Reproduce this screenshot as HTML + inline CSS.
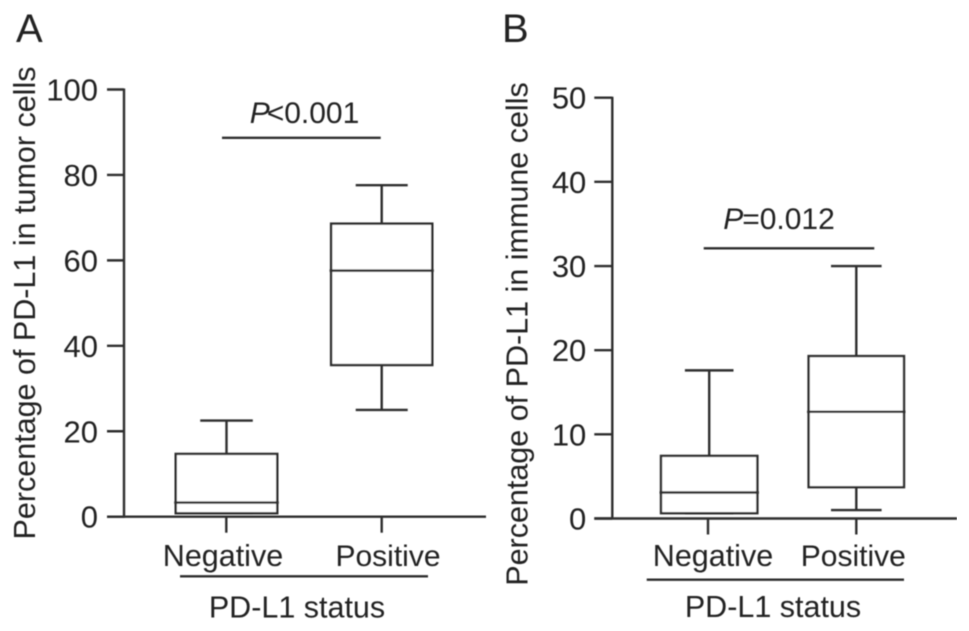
<!DOCTYPE html>
<html>
<head>
<meta charset="utf-8">
<style>
html,body{margin:0;padding:0;background:#fff;}
svg{display:block;}
text{font-family:"Liberation Sans",sans-serif;fill:#202020;}
</style>
</head>
<body>
<svg id="chart" width="969" height="631" viewBox="0 0 969 631" xmlns="http://www.w3.org/2000/svg">
<defs><filter id="soft" x="0" y="0" width="100%" height="100%"><feGaussianBlur stdDeviation="0.45"/></filter></defs>
<g id="root" filter="url(#soft)"></g>
</svg>
<script>
const categories = ['Negative', 'Positive'];
const ticksA = [0, 20, 40, 60, 80, 100];
const ticksB = [0, 10, 20, 30, 40, 50];
// each box: q1, median, q3, upper whisker, lower whisker
const negativeA = [0.8, 3.3, 14.7, 22.5, 0.8];
const positiveA = [35.5, 57.6, 68.6, 77.6, 25];
const negativeB = [0.63, 3.09, 7.44, 17.6, 0.63];
const positiveB = [3.72, 12.68, 19.3, 30, 1];
const pLabelA = '<0.001';
const pLabelB = '=0.012';
const pHeightA = 88.7;
const pHeightB = 32.1;

const NS = 'http://www.w3.org/2000/svg';
const root = document.getElementById('root');
const INK = '#2e2e2e';

function line(x1, y1, x2, y2, name, w) {
  const el = document.createElementNS(NS, 'line');
  el.setAttribute('x1', x1);
  el.setAttribute('y1', y1);
  el.setAttribute('x2', x2);
  el.setAttribute('y2', y2);
  el.setAttribute('stroke', INK);
  el.setAttribute('stroke-width', w || 2.4);
  
  
  root.appendChild(el);
  return el;
}
function text(x, y, s, size, anchor, name, rot) {
  const el = document.createElementNS(NS, 'text');
  el.setAttribute('x', x);
  el.setAttribute('y', y);
  el.setAttribute('font-size', size);
  el.setAttribute('text-anchor', anchor);
  if (rot) el.setAttribute('transform', 'rotate(-90 ' + x + ' ' + y + ')');
  el.textContent = s;
  
  
  root.appendChild(el);
  return el;
}
function rect(x, y, w, h, name) {
  const el = document.createElementNS(NS, 'rect');
  el.setAttribute('x', x);
  el.setAttribute('y', y);
  el.setAttribute('width', w);
  el.setAttribute('height', h);
  el.setAttribute('fill', '#fff');
  el.setAttribute('stroke', INK);
  el.setAttribute('stroke-width', 2.4);
  
  
  root.appendChild(el);
  return el;
}
function box(v, cx, halfW, capW, scale, name) {
  line(cx, scale(v[3]), cx, scale(v[2]), name + '-upper-whisker');
  line(cx, scale(v[0]), cx, scale(v[4]), name + '-lower-whisker');
  line(cx - capW, scale(v[3]), cx + capW, scale(v[3]), name + '-upper-cap');
  line(cx - capW, scale(v[4]), cx + capW, scale(v[4]), name + '-lower-cap');
  rect(cx - halfW, scale(v[2]), halfW * 2, scale(v[0]) - scale(v[2]), name + '-box');
  line(cx - halfW - 1.5, scale(v[1]), cx + halfW + 1.5, scale(v[1]), name + '-median');
}
function panel(c) {
  const scale = val => c.y0 + (c.yTop - c.y0) * val / c.max;
  line(c.axisX, scale(c.max) - 1, c.axisX, c.y0 + 1, c.id + '-y-axis');
  line(c.axisX - c.tickLen, c.y0, c.axisRight, c.y0, c.id + '-x-axis');
  c.ticks.forEach(t => {
    line(c.axisX - c.tickLen, scale(t), c.axisX, scale(t), c.id + '-y-tick-' + t);
    text(c.axisX - 26, scale(t) + 11, String(t), 31, 'end', c.id + '-y-tick-label-' + t);
  });
  c.tickX.forEach((tx, i) => {
    line(tx, c.y0, tx, c.y0 + 16, c.id + '-x-tick-' + categories[i].toLowerCase());
    text(c.labelX[i], 566, categories[i], i === 0 ? 30.5 : 30, 'middle', c.id + '-x-label-' + categories[i].toLowerCase());
  });
  box(c.neg, c.centers[0], c.halfW[0], c.capW[0], scale, c.id + '-negative');
  box(c.pos, c.centers[1], c.halfW[1], c.capW[1], scale, c.id + '-positive');
  line(c.sigX1, scale(c.pHeight), c.sigX2, scale(c.pHeight), c.id + '-significance-bar');
  const p = text(c.pX, scale(c.pHeight) - c.pOffset, '', 30, 'middle', c.id + '-p-value');
  const it = document.createElementNS(NS, 'tspan');
  it.setAttribute('font-style', 'italic');
  it.textContent = 'P';
  p.appendChild(it);
  const rest = document.createElementNS(NS, 'tspan');
  rest.setAttribute('dx', c.pDx);
  rest.textContent = c.pLabel;
  p.appendChild(rest);
  line(c.statusX1, c.statusY, c.statusX2, c.statusY, c.id + '-status-bracket');
  text(c.statusX, c.statusBase, 'PD-L1 status', 30.5, 'middle', c.id + '-x-axis-title');
  text(c.titleX, c.titleY, c.title, 30.5, 'middle', c.id + '-y-axis-title', true);
  text(c.letterX, 42, c.letter, 40, 'start', c.id + '-panel-letter');
}
panel({id:'panel-a', letter:'A', letterX:16, max:100, ticks:ticksA, y0:516.7, yTop:89.5, axisX:124, tickLen:17, axisRight:486,
  centers:[226.5,381.7], tickX:[226.3,381.7], labelX:[223,388], halfW:[50.8,50.6], capW:[26.3,26], neg:negativeA, pos:positiveA,
  pHeight:pHeightA, pLabel:pLabelA, pX:304.5, pOffset:14.7, pDx:-3, sigX1:222, sigX2:380.7,
  statusX1:180, statusX2:428, statusY:576.3, statusX:297, statusBase:617.7,
  title:'Percentage of PD-L1 in tumor cells', titleX:35, titleY:303});
panel({id:'panel-b', letter:'B', letterX:502, max:50, ticks:ticksB, y0:518.5, yTop:97.7, axisX:612.3, tickLen:18, axisRight:957,
  centers:[709.2,856.3], tickX:[708,856.3], labelX:[713,853.3], halfW:[48.2,47.7], capW:[24.3,25.3], neg:negativeB, pos:positiveB,
  pHeight:pHeightB, pLabel:pLabelB, pX:779, pOffset:19.5, pDx:-1, sigX1:703.7, sigX2:874.3,
  statusX1:646.7, statusX2:904, statusY:579.7, statusX:773, statusBase:617,
  title:'Percentage of PD-L1 in immune cells', titleX:527.7, titleY:334});
</script>
</body>
</html>
